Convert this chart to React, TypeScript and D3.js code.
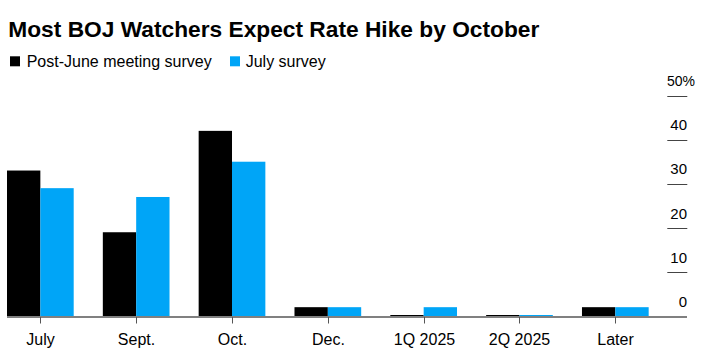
import React from "react";
import * as d3 from "d3";

const categories = ["July", "Sept.", "Oct.", "Dec.", "1Q 2025", "2Q 2025", "Later"];
const postJune = [33, 19, 42, 2, 0, 0, 2];
const julySurvey = [29, 27, 35, 2, 2, 0, 2];
const seriesNames = ["Post-June meeting survey", "July survey"];
const yTicks = [0, 10, 20, 30, 40, 50];

const W = 706;
const H = 354;
const colors = ["#000000", "#00a5f7"];
const font = "'Liberation Sans', Arial, Helvetica, sans-serif";

export default function App() {
  const x = d3
    .scaleBand<string>()
    .domain(categories)
    .range([7, 687])
    .paddingInner(0.304)
    .paddingOuter(0.2)
    .align(0);
  const sub = d3
    .scaleBand<string>()
    .domain(["a", "b"])
    .range([0, x.bandwidth()]);
  const y = d3.scaleLinear().domain([0, 50]).range([316, 95.6]);
  const series = [postJune, julySurvey];
  const keys = ["a", "b"];

  return (
    <svg
      width={W}
      height={H}
      style={{ position: "absolute", left: 0, top: 0, background: "#fff" }}
      fontFamily={font}
    >
      <rect x={0} y={0} width={W} height={H} fill="#fff" />
      <text
        x={8.3}
        y={37.3}
        fontSize={22}
        fontWeight="bold"
        fill="#000"
        textLength={531}
        lengthAdjust="spacingAndGlyphs"
      >
        Most BOJ Watchers Expect Rate Hike by October
      </text>
      {/* legend */}
      <rect x={10} y={56.3} width={10} height={10} fill={colors[0]} />
      <text x={26.7} y={66.6} fontSize={16} fill="#000">
        {seriesNames[0]}
      </text>
      <rect x={230} y={56.3} width={10} height={10} fill={colors[1]} />
      <text x={245.7} y={66.6} fontSize={16} fill="#000">
        {seriesNames[1]}
      </text>

      {/* y ticks on right */}
      {yTicks.map((t) => (
        <g key={t}>
          {t > 0 && (
            <line
              x1={667.3}
              x2={687.3}
              y1={Math.round(y(t)) + 0.5}
              y2={Math.round(y(t)) + 0.5}
              stroke="#444"
              strokeWidth={1}
            />
          )}
          {t === 50 ? (
            <text x={667} y={y(t) - 9.3} fontSize={14} fill="#000">
              {t}%
            </text>
          ) : (
            <text x={687} y={y(t) - 9.3} fontSize={15} textAnchor="end" fill="#000">
              {t}
            </text>
          )}
        </g>
      ))}

      {/* bars */}
      {categories.map((c, i) => (
        <g key={c} transform={`translate(${x(c)},0)`}>
          {series.map((s, j) => {
            const top = y(s[i]);
            const h = Math.max(1, y(0) - top);
            return (
              <rect
                key={j}
                x={sub(keys[j])}
                y={y(0) - h}
                width={sub.bandwidth()}
                height={h}
                fill={colors[j]}
              />
            );
          })}
        </g>
      ))}

      {/* x axis */}
      <line x1={7} x2={687} y1={317} y2={317} stroke="#808080" strokeWidth={2} />
      {categories.map((c) => {
        const cx = Math.round((x(c) as number) + x.bandwidth() / 2) + 0.5;
        return (
          <g key={c}>
            <line x1={cx} x2={cx} y1={317} y2={323.5} stroke="#555" strokeWidth={1} />
            <text x={cx} y={345} fontSize={16} textAnchor="middle" fill="#000">
              {c}
            </text>
          </g>
        );
      })}
    </svg>
  );
}
